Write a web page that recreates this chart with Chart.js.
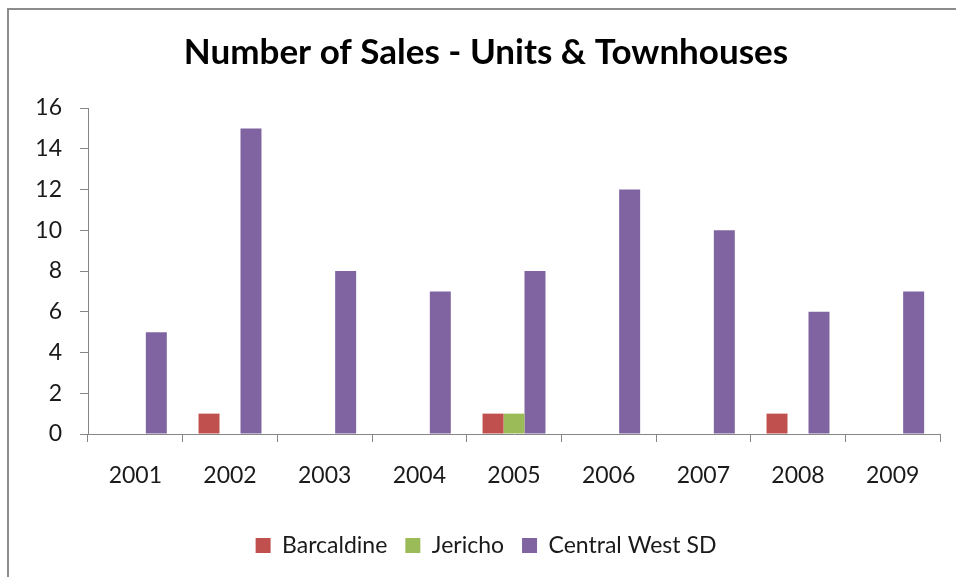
<!DOCTYPE html>
<html lang="en">
<head>
    <meta charset="UTF-8">
    <title>Number of Sales - Units &amp; Townhouses</title>
    <script src="https://cdn.jsdelivr.net/npm/chart.js"></script>
    <style>
        body { margin: 0; background: #ffffff; overflow: hidden; }
        .wrap { position: relative; width: 956px; height: 577px; }
        .frame { position: absolute; left: 7px; top: 8px; width: 1000px; height: 600px; border-top: 2px solid #8c8c8c; border-left: 2px solid #8c8c8c; }
        canvas { position: absolute; left: 0; top: 0; }
    </style>
</head>
<body>
    <div class="wrap">
        <div class="frame"></div>
        <canvas id="salesChart" width="956" height="577"></canvas>
    </div>

    <script>
        const years = ['2001', '2002', '2003', '2004', '2005', '2006', '2007', '2008', '2009'];
        const barcaldine = [0, 1, 0, 0, 1, 0, 0, 1, 0];
        const jericho = [0, 0, 0, 0, 1, 0, 0, 0, 0];
        const centralWest = [5, 15, 8, 7, 8, 12, 10, 6, 7];

        const fontFamily = 'Lato, "Open Sans", sans-serif';
        const axisColor = '#868686';
        const textColor = '#1a1a1a';

        const ctx = document.getElementById('salesChart').getContext('2d');
        new Chart(ctx, {
            type: 'bar',
            data: {
                labels: years,
                datasets: [
                    { label: 'Barcaldine', data: barcaldine, backgroundColor: '#C0504D' },
                    { label: 'Jericho', data: jericho, backgroundColor: '#9BBB59' },
                    { label: 'Central West SD', data: centralWest, backgroundColor: '#8064A2' }
                ]
            },
            options: {
                responsive: false,
                animation: false,
                datasets: { bar: { barPercentage: 1, categoryPercentage: 0.665 } },
                // title and legend are centred a bit right of the canvas middle
                layout: { padding: { left: 16, right: 0, top: 0, bottom: 10 } },
                plugins: {
                    title: {
                        display: true,
                        text: 'Number of Sales - Units & Townhouses',
                        color: '#000000',
                        font: { family: fontFamily, size: 35, weight: 'bold' },
                        padding: { top: 32, bottom: 34 }
                    },
                    legend: {
                        position: 'bottom',
                        labels: {
                            color: textColor,
                            font: { family: fontFamily, size: 23 },
                            boxWidth: 15,
                            boxHeight: 15,
                            padding: 18
                        }
                    },
                    tooltip: { enabled: false }
                },
                scales: {
                    x: {
                        grid: { drawOnChartArea: false, tickLength: 8, color: axisColor, offset: true },
                        border: { color: axisColor },
                        ticks: { color: textColor, font: { family: fontFamily, size: 23 }, padding: 20, maxRotation: 0 },
                        afterFit: function (scale) {
                            scale.height = 82;
                            scale.paddingRight = 16;
                        }
                    },
                    y: {
                        min: 0,
                        max: 16,
                        ticks: { stepSize: 2, color: textColor, font: { family: fontFamily, size: 23 }, padding: 18 },
                        grid: { drawOnChartArea: false, tickLength: 8, color: axisColor },
                        border: { color: axisColor },
                        afterFit: function (scale) { scale.width = 72; }
                    }
                }
            }
        });
    </script>
</body>
</html>
